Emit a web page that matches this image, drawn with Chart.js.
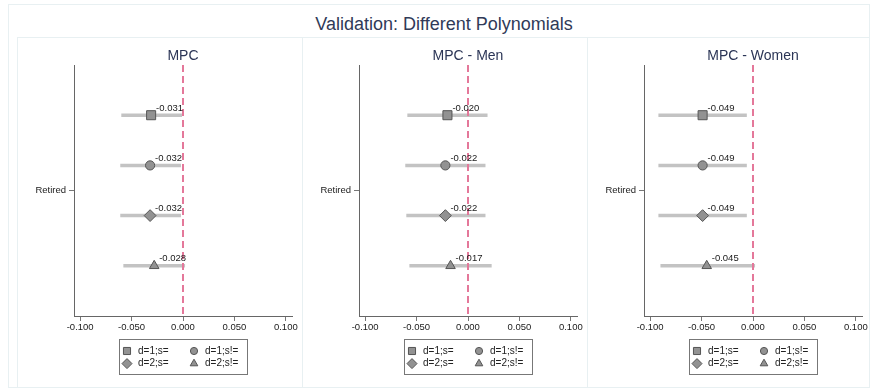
<!DOCTYPE html>
<html>
<head>
<meta charset="utf-8">
<title>Validation: Different Polynomials</title>
<script src="https://cdn.jsdelivr.net/npm/chart.js@4.4.0/dist/chart.umd.min.js"></script>
<style>
  body { margin: 0; background: #fff; width: 873px; height: 391px; position: relative; overflow: hidden;
         font-family: "Liberation Sans", Arial, sans-serif; }
  .frame { position: absolute; border: 1px solid #e8f0f2; box-sizing: border-box; }
  .main-title { position: absolute; left: 444px; top: 14px; transform: translateX(-50%);
                font-size: 18px; line-height: 20px; color: #303a58; white-space: nowrap; }
  canvas { position: absolute; top: 37px; }
</style>
</head>
<body>
<div class="frame" style="left:8px; top:4px; width:862px; height:384px;"></div>
<div class="frame" style="left:17px; top:37px; width:286px; height:351px;"></div>
<div class="frame" style="left:302px; top:37px; width:286px; height:351px;"></div>
<div class="frame" style="left:587px; top:37px; width:283px; height:351px;"></div>
<div class="main-title">Validation: Different Polynomials</div>
<canvas id="mpcChart" width="285" height="350" style="left:17px"></canvas>
<canvas id="menChart" width="285" height="350" style="left:302px"></canvas>
<canvas id="womenChart" width="285" height="350" style="left:587px"></canvas>

<script>
// data
const categories = ["Retired"];
const seriesLabels = ["d=1;s=", "d=1;s!=", "d=2;s=", "d=2;s!="];
const panelTitles = ["MPC", "MPC - Men", "MPC - Women"];
const xTicks = [-0.1, -0.05, 0, 0.05, 0.1];

const mpcEst = [-0.031, -0.032, -0.032, -0.028];
const mpcLo = [-0.060, -0.061, -0.061, -0.058];
const mpcHi = [-0.001, -0.002, -0.002, 0.002];

const menEst = [-0.020, -0.022, -0.022, -0.017];
const menLo = [-0.059, -0.061, -0.060, -0.057];
const menHi = [0.019, 0.017, 0.017, 0.023];

const womenEst = [-0.049, -0.049, -0.049, -0.045];
const womenLo = [-0.092, -0.092, -0.092, -0.090];
const womenHi = [-0.006, -0.006, -0.006, 0.002];

// marker styles
const pointStyles = ["rect", "circle", "rectRot", "triangle"];
const pointRadii = [6.4, 4.6, 5.9, 5.5];
const legendRadii = [5, 3.6, 5, 4.4];
const FONT = "'Liberation Sans', Arial, sans-serif";

const coefPlugin = {
  id: "coef",
  beforeDatasetsDraw(chart, args, opts) {
    const { ctx, chartArea, scales } = chart;
    const x = scales.x, y = scales.y;
    ctx.save();
    // confidence intervals
    ctx.strokeStyle = "#c3c3c3";
    ctx.lineWidth = 3.5;
    opts.lo.forEach((lo, i) => {
      const py = y.getPixelForValue(i + 1);
      ctx.beginPath();
      ctx.moveTo(x.getPixelForValue(lo), py);
      ctx.lineTo(x.getPixelForValue(opts.hi[i]), py);
      ctx.stroke();
    });
    // zero reference line
    const zx = Math.round(x.getPixelForValue(0));
    ctx.strokeStyle = "#e4789a";
    ctx.lineWidth = 2;
    ctx.setLineDash([7, 4]);
    ctx.beginPath();
    ctx.moveTo(zx, chartArea.top);
    ctx.lineTo(zx, chartArea.bottom);
    ctx.stroke();
    ctx.restore();
  },
  afterDatasetsDraw(chart, args, opts) {
    const { ctx, scales } = chart;
    ctx.save();
    ctx.font = "9.5px " + FONT;
    ctx.fillStyle = "#1a1a1a";
    ctx.textBaseline = "middle";
    ctx.textAlign = "left";
    opts.est.forEach((v, i) => {
      const px = scales.x.getPixelForValue(v);
      const py = scales.y.getPixelForValue(i + 1);
      ctx.fillText(v.toFixed(3), px + 5, py - 7);
    });
    ctx.restore();
  },
  afterDraw(chart) {
    // legend box below the axis, 2 x 2
    const { ctx, chartArea } = chart;
    const w = 128, h = 35;
    const lx = Math.round((chartArea.left + chartArea.right) / 2 - w / 2);
    const ly = Math.round(chartArea.bottom + 23);
    ctx.save();
    ctx.strokeStyle = "#777";
    ctx.lineWidth = 1;
    ctx.strokeRect(lx + 0.5, ly + 0.5, w, h);
    ctx.font = "10px " + FONT;
    ctx.textBaseline = "middle";
    ctx.textAlign = "left";
    seriesLabels.forEach((lab, i) => {
      const col = i % 2, row = Math.floor(i / 2);
      const mx = lx + 8 + col * 67;
      const my = ly + 12 + row * 12.6;
      ctx.fillStyle = "#929292";
      ctx.strokeStyle = "#555";
      ctx.lineWidth = 1;
      Chart.helpers.drawPoint(ctx, { pointStyle: pointStyles[i], radius: legendRadii[i], borderWidth: 1, rotation: 0 }, mx, my);
      ctx.fillStyle = "#222";
      ctx.fillText(lab, mx + 11, my);
    });
    ctx.restore();
  }
};

function makePanel(id, title, est, lo, hi) {
  const ctx = document.getElementById(id);
  const nRows = seriesLabels.length;

  const datasets = seriesLabels.map((lab, i) => ({
    label: lab,
    data: [{ x: est[i], y: i + 1 }],
    pointStyle: pointStyles[i],
    pointRadius: pointRadii[i],
    backgroundColor: "#929292",
    borderColor: "#555",
    borderWidth: 1,
  }));

  return new Chart(ctx, {
    type: "scatter",
    data: { datasets: datasets },
    options: {
      responsive: false,
      animation: false,
      devicePixelRatio: 1,
      layout: { padding: { left: 0, right: 10, top: 0, bottom: 0 } },
      plugins: {
        legend: { display: false },
        tooltip: { enabled: false },
        title: {
          display: true,
          text: title,
          fullSize: false,
          color: "#2b3556",
          font: { family: FONT, size: 14, weight: "normal" },
          padding: { top: 10.6, bottom: 0.6 },
        },
        coef: { est: est, lo: lo, hi: hi },
      },
      scales: {
        x: {
          type: "linear",
          min: -0.106,
          max: 0.106,
          afterBuildTicks: (s) => { s.ticks = xTicks.map((v) => ({ value: v })); },
          afterFit: (s) => { s.height = 71; },
          ticks: {
            color: "#1a1a1a",
            padding: 1,
            maxRotation: 0,
            font: { family: FONT, size: 9.5 },
            callback: (v) => Number(v).toFixed(3),
          },
          grid: { drawOnChartArea: false, drawTicks: true, tickLength: 5, color: "#777" },
          border: { display: true, color: "#666", width: 1 },
        },
        y: {
          type: "linear",
          min: 0,
          max: nRows + 1,
          reverse: true,
          afterBuildTicks: (s) => { s.ticks = categories.map(() => ({ value: (nRows + 1) / 2 })); },
          afterFit: (s) => { s.width = 57; },
          ticks: {
            color: "#1a1a1a",
            padding: 3,
            font: { family: FONT, size: 9.5 },
            callback: (v, i) => categories[i],
          },
          grid: { drawOnChartArea: false, drawTicks: true, tickLength: 5, color: "#777" },
          border: { display: true, color: "#666", width: 1 },
        },
      },
    },
    plugins: [coefPlugin],
  });
}

makePanel("mpcChart", panelTitles[0], mpcEst, mpcLo, mpcHi);
makePanel("menChart", panelTitles[1], menEst, menLo, menHi);
makePanel("womenChart", panelTitles[2], womenEst, womenLo, womenHi);
</script>
</body>
</html>
